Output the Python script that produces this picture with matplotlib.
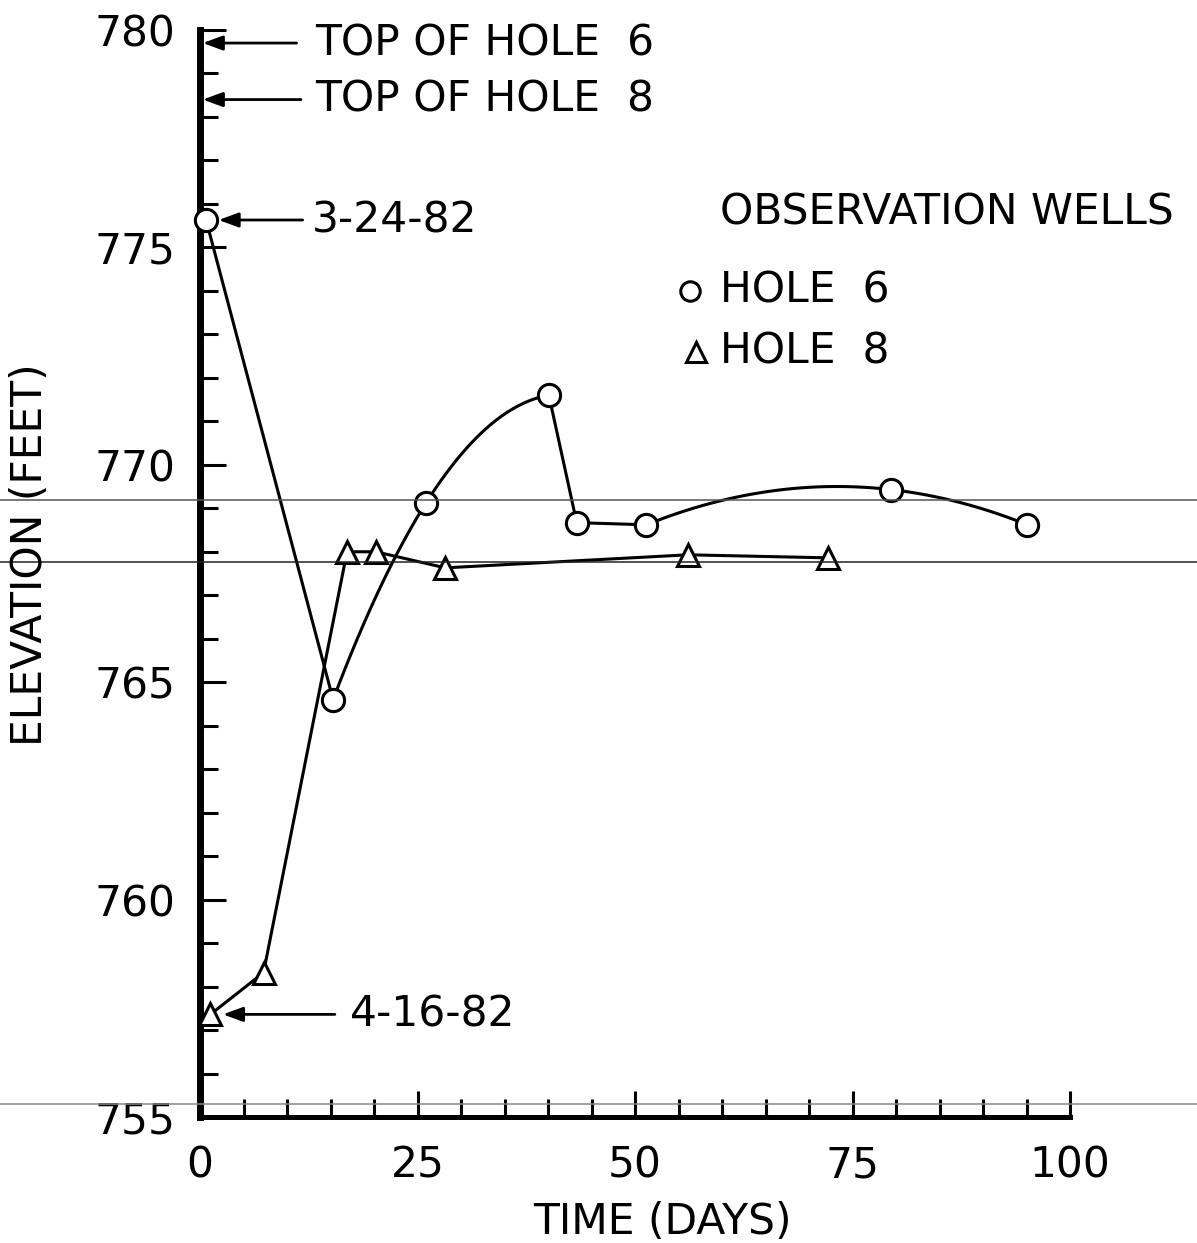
import numpy as np
import matplotlib.pyplot as plt
from matplotlib.lines import Line2D
from matplotlib.ticker import MultipleLocator
from matplotlib.transforms import blended_transform_factory

# ----------------------------
# DATA
# ----------------------------

hole6_days = [0.7, 15.3, 26.0, 40.1, 43.3, 51.3, 79.4, 95.1]
hole6_elev = [775.63, 764.6, 769.13, 771.6, 768.67, 768.62, 769.43, 768.62]

hole8_days = [1.2, 7.3, 16.9, 20.2, 28.2, 56.1, 72.2]
hole8_elev = [757.36, 758.32, 768.0, 768.0, 767.63, 767.93, 767.86]

top_of_hole6 = 779.7
top_of_hole8 = 778.4

# thin rules that run across the whole sheet
sheet_rules = [769.2, 767.77, 755.3]
sheet_rule_colors = ["#555555", "#222222", "#888888"]

x_ticks = [0, 25, 50, 75, 100]
y_ticks = [755, 760, 765, 770, 775, 780]

# ----------------------------
# HELPERS
# ----------------------------

def curve_through(xs, ys, n=80):
    # smooth connecting curve through three readings
    coef = np.polyfit(xs, ys, 2)
    xx = np.linspace(xs[0], xs[-1], n)
    return xx, np.polyval(coef, xx)


def arrow(ax, xy, tail, shrink=0):
    ax.annotate("", xy=xy, xytext=tail, annotation_clip=False,
                arrowprops=dict(arrowstyle="-|>,head_length=0.6,head_width=0.22",
                                lw=2, color="black", shrinkA=0, shrinkB=shrink,
                                mutation_scale=20))

# ----------------------------
# PLOT
# ----------------------------

plt.rcParams["font.family"] = ["DejaVu Sans"]
plt.rcParams["font.size"] = 30.5

fig = plt.figure(figsize=(11.97, 12.43), dpi=100)
ax = fig.add_axes([200 / 1197, 126 / 1243, 870 / 1197, 1087 / 1243])
ax.set_xlim(0, 100)
ax.set_ylim(755, 780)

line_kw = dict(color="black", lw=2.2, zorder=3)
mark_kw = dict(color="black", mfc="white", mew=2.2, ls="none", zorder=4, clip_on=False)

# hole 6: straight drop, curved rise, straight fall, curved tail
h6x, h6y = np.array(hole6_days), np.array(hole6_elev)
ax.plot(h6x[0:2], h6y[0:2], **line_kw)
ax.plot(*curve_through(h6x[1:4], h6y[1:4]), **line_kw)
ax.plot(h6x[3:6], h6y[3:6], **line_kw)
ax.plot(*curve_through(h6x[5:8], h6y[5:8]), **line_kw)
ax.plot(h6x, h6y, marker="o", ms=16, **mark_kw)

# hole 8
ax.plot(hole8_days, hole8_elev, **line_kw)
ax.plot(hole8_days, hole8_elev, marker="^", ms=16, **mark_kw)

# rules across the full sheet width
tr = blended_transform_factory(fig.transFigure, ax.transData)
for yv, c in zip(sheet_rules, sheet_rule_colors):
    fig.add_artist(Line2D([0, 1], [yv, yv], transform=tr, color=c, lw=1.1, zorder=1))

# annotations
arrow(ax, (0, top_of_hole6), (11.1, top_of_hole6), shrink=2)
ax.text(13.2, top_of_hole6, "TOP OF HOLE  6", va="center", ha="left", clip_on=False)
arrow(ax, (0, top_of_hole8), (11.6, top_of_hole8), shrink=2)
ax.text(13.2, top_of_hole8, "TOP OF HOLE  8", va="center", ha="left", clip_on=False)

arrow(ax, (hole6_days[0], hole6_elev[0]), (11.8, hole6_elev[0]), shrink=9)
ax.text(12.9, hole6_elev[0], "3-24-82", va="center", ha="left")
arrow(ax, (hole8_days[0], hole8_elev[0]), (15.5, hole8_elev[0]), shrink=9)
ax.text(17.2, hole8_elev[0], "4-16-82", va="center", ha="left")

# key
ax.text(59.8, 775.8, "OBSERVATION WELLS", va="center", ha="left", clip_on=False)
ax.plot([56.3], [774.0], marker="o", ms=14, **mark_kw)
ax.text(59.8, 774.0, "HOLE  6", va="center", ha="left")
ax.plot([57.0], [772.6], marker="^", ms=14, **mark_kw)
ax.text(59.8, 772.6, "HOLE  8", va="center", ha="left")

# axes styling
for side in ["top", "right"]:
    ax.spines[side].set_visible(False)
ax.spines["left"].set_linewidth(5)
ax.spines["bottom"].set_linewidth(3.6)

ax.set_xticks(x_ticks)
ax.set_yticks(y_ticks)
ax.xaxis.set_minor_locator(MultipleLocator(5))
ax.yaxis.set_minor_locator(MultipleLocator(1))
ax.tick_params(which="major", direction="in", length=19, width=2.2)
ax.tick_params(which="minor", direction="in", length=13, width=2.2)
ax.tick_params(axis="y", which="major", pad=18)
ax.tick_params(axis="x", which="major", pad=20)

fig.text(30 / 1197, 1 - 555 / 1243, "ELEVATION (FEET)", rotation=90, ha="center", va="center")
fig.text(662 / 1197, 1 - 1222 / 1243, "TIME (DAYS)", ha="center", va="center")

fig.savefig("out.png", dpi=100)
